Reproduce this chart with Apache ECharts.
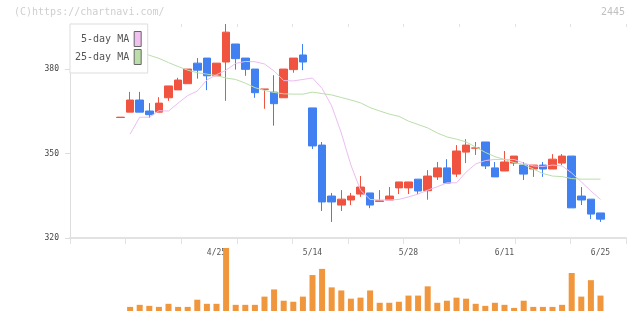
<!DOCTYPE html>
<html>
<head>
<meta charset="utf-8">
<script src="https://cdn.jsdelivr.net/npm/echarts@6/dist/echarts.min.js"></script>
<style>
html,body{margin:0;padding:0;background:#fff;}
#chart{width:640px;height:311px;}
</style>
</head>
<body>
<div id="chart"></div>
<script>
// ---- data ----
const dates = ['4/11','4/12','4/15','4/16','4/17','4/18','4/19','4/22','4/23','4/24',
  '4/25','4/26','4/30','5/1','5/2','5/7','5/8','5/9','5/10','5/13',
  '5/14','5/15','5/16','5/17','5/20','5/21','5/22','5/23','5/24','5/27',
  '5/28','5/29','5/30','5/31','6/3','6/4','6/5','6/6','6/7','6/10',
  '6/11','6/12','6/13','6/14','6/17','6/18','6/19','6/20','6/21','6/24','6/25'];
const openP  = [362.8,364.7,369.0,365.1,364.7,369.8,372.6,374.8,382.1,383.9,
  377.6,382.5,388.9,383.9,380.0,372.8,371.8,369.8,379.8,385.0,
  366.2,353.0,334.9,331.7,333.5,335.6,336.0,333.0,333.5,337.8,
  337.8,340.9,336.8,341.7,344.9,342.7,350.5,351.9,354.1,344.9,
  343.8,346.6,345.9,344.5,345.9,344.5,346.6,349.1,334.9,333.8,328.9];
const closeP = [362.9,369.0,364.7,363.8,367.9,374.0,376.1,380.0,379.6,377.6,
  382.1,393.1,383.7,379.9,371.6,372.9,367.7,380.0,383.9,382.5,
  352.7,332.8,332.8,333.8,334.9,338.1,331.7,333.2,334.9,339.9,
  339.9,336.7,342.0,344.9,339.5,350.9,353.0,352.0,345.6,341.7,
  347.0,349.1,342.7,345.9,344.5,348.0,349.1,330.7,333.5,328.5,326.7];
const lowP   = [362.8,364.7,364.7,362.7,364.7,368.7,372.6,374.8,376.6,372.5,
  377.6,368.7,379.8,377.6,369.8,365.9,359.9,369.8,378.7,379.6,
  351.6,329.6,325.7,329.6,331.7,334.6,330.6,333.0,333.5,335.6,
  335.6,335.6,333.6,340.6,339.5,341.7,346.6,349.5,344.5,341.7,
  343.8,345.6,340.6,341.7,341.7,344.5,345.9,330.7,331.7,326.7,325.7];
const highP  = [362.9,371.9,371.9,367.9,370.0,374.0,376.9,380.0,383.9,383.9,
  382.1,396.0,388.9,383.9,380.0,372.9,377.8,380.0,383.9,388.9,
  366.2,354.1,336.0,337.0,336.0,342.0,336.0,337.0,338.1,339.9,
  339.9,340.9,344.1,347.0,348.0,353.0,355.1,354.1,354.1,347.0,
  350.9,349.1,347.0,345.9,347.0,349.8,349.8,349.1,338.1,333.8,328.9];
const volume = ['-',12,18,15,12,21,12,12,33,21,
  21,184,18,18,18,42,63,30,27,42,
  105,123,69,60,36,39,60,24,24,27,
  45,45,72,24,30,39,36,21,15,24,
  18,9,30,12,12,12,18,111,42,90,45];
const ma5 = ['-',356.9,362.9,362.9,365.2,365.1,367.9,370.6,372.2,376.1,
  378.0,379.6,382.0,382.7,382.6,381.8,379.3,375.9,375.8,376.3,
  376.8,373.1,366.9,357.3,345.9,337.0,333.7,333.5,333.5,333.7,
  334.6,335.6,337.0,338.2,339.6,339.6,343.4,346.3,347.5,347.9,
  347.9,347.9,346.6,345.6,345.4,345.9,345.6,343.1,339.9,336.7,333.7];
const ma25 = [388.0,386.9,385.9,384.9,383.8,382.3,380.9,379.6,378.7,378.2,
  377.7,376.8,376.3,375.0,373.4,372.4,371.7,371.2,371.1,371.1,
  371.8,371.3,370.8,369.9,369.0,368.0,366.3,365.1,364.0,363.2,
  361.5,360.3,359.1,357.3,355.9,355.1,354.1,352.3,350.4,348.9,
  347.9,346.8,346.1,344.5,342.9,342.0,341.8,341.1,340.9,340.9,340.9];
const priceTicks = [320, 350, 380];

// ---- build ----
const mono = "'DejaVu Sans Mono', monospace";
const UP = '#F05440', DOWN = '#4080F0';
const candles = dates.map((d, i) => [openP[i], closeP[i], lowP[i], highP[i]]);

const chart = echarts.init(document.getElementById('chart'), null, {renderer: 'canvas'});
chart.setOption({
  animation: false,
  backgroundColor: '#fff',
  graphic: [
    {type: 'text', left: 14, top: 7, style: {text: '(C)https://chartnavi.com/', font: '10px ' + mono, fill: '#cfcfcf'}},
    {type: 'text', right: 15, top: 7, style: {text: '2445', font: '10px ' + mono, fill: '#c0c0c0'}}
  ],
  legend: {
    orient: 'vertical', left: 70, top: 24, align: 'right',
    padding: [7, 6, 8, 5], itemGap: 2, itemWidth: 7, itemHeight: 15,
    backgroundColor: '#fff', borderColor: '#ddd', borderWidth: 1,
    icon: 'rect', selectedMode: false,
    textStyle: {fontFamily: mono, fontSize: 10, color: '#555'},
    data: [
      {name: '5-day MA', itemStyle: {color: '#F0C0F0', borderColor: '#666', borderWidth: 1}},
      {name: '25-day MA', itemStyle: {color: '#BBDDAA', borderColor: '#666', borderWidth: 1}}
    ]
  },
  grid: [
    {left: 70, right: 14, top: 24, bottom: 73},
    {left: 115.7, width: 489.6, top: 24, bottom: 73},
    {left: 115.7, width: 489.6, top: 248, bottom: 0}
  ],
  xAxis: [
    {type: 'value', gridIndex: 0, min: 0, max: 10, interval: 1,
     axisLine: {show: true, lineStyle: {color: '#e2e2e2', width: 2}},
     axisTick: {show: true, length: 6, lineStyle: {color: '#e2e2e2', width: 1}},
     axisLabel: {show: false}, splitLine: {show: false}},
    {type: 'value', gridIndex: 0, min: 0, max: 10, interval: 1,
     axisLine: {show: false},
     axisTick: {show: true, inside: true, length: 3, lineStyle: {color: '#e2e2e2', width: 1}},
     axisLabel: {show: false}, splitLine: {show: false}},
    {type: 'category', gridIndex: 1, data: dates, boundaryGap: true,
     axisLine: {show: false}, axisTick: {show: false}, splitLine: {show: false},
     axisLabel: {interval: (i) => i > 0 && i % 10 === 0, margin: 11,
       fontFamily: mono, fontSize: 8, color: '#555'}},
    {type: 'category', gridIndex: 2, data: dates, boundaryGap: true, show: false}
  ],
  yAxis: [
    {type: 'value', gridIndex: 0, min: 320, max: 396, interval: 30,
     axisLine: {show: true, lineStyle: {color: '#dddddd', width: 1}},
     axisTick: {show: true, length: 5, lineStyle: {color: '#dddddd'}, customValues: priceTicks},
     axisLabel: {margin: 11, fontFamily: mono, fontSize: 8, color: '#444',
       customValues: priceTicks},
     splitLine: {show: false}},
    {type: 'value', gridIndex: 1, min: 320, max: 396, show: false, splitLine: {show: false}},
    {type: 'value', gridIndex: 2, min: 0, max: 184, show: false, splitLine: {show: false}}
  ],
  series: [
    {name: 'price', type: 'candlestick', xAxisIndex: 2, yAxisIndex: 1, data: candles,
     barWidth: 8,
     itemStyle: {color: UP, color0: DOWN, borderColor: UP, borderColor0: DOWN, borderWidth: 1}},
    {name: '25-day MA', type: 'line', xAxisIndex: 2, yAxisIndex: 1, data: ma25,
     symbol: 'none', lineStyle: {color: '#BADFAB', width: 1}, itemStyle: {color: '#BBDDAA'}},
    {name: '5-day MA', type: 'line', xAxisIndex: 2, yAxisIndex: 1, data: ma5,
     symbol: 'none', lineStyle: {color: '#EBBDF2', width: 1}, itemStyle: {color: '#F0C0F0'}},
    {name: 'volume', type: 'bar', xAxisIndex: 3, yAxisIndex: 2, data: volume,
     barWidth: 6, itemStyle: {color: '#F0963C'}}
  ]
});
</script>
</body>
</html>
